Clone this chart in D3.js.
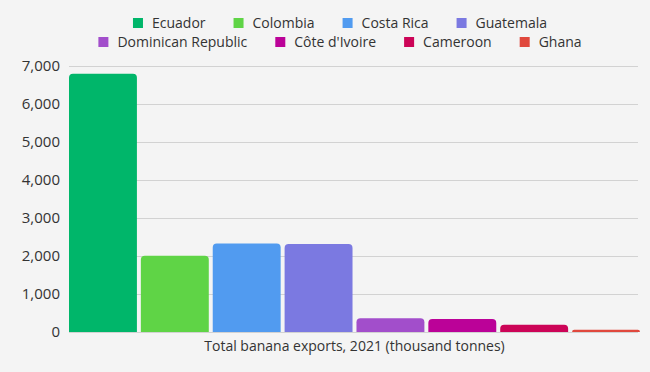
<!DOCTYPE html>
<html>
<head>
<meta charset="utf-8">
<script src="https://cdn.jsdelivr.net/npm/d3@7"></script>
<style>
  html, body { margin: 0; padding: 0; background: #f4f4f4; }
  svg { display: block; font-family: "Open Sans", sans-serif; }
</style>
</head>
<body>
<svg id="chart" width="650" height="372"></svg>
<script>
// Banana exports 2021, thousand tonnes
var countries = ['Ecuador', 'Colombia', 'Costa Rica', 'Guatemala',
  'Dominican Republic', "Côte d'Ivoire", 'Cameroon', 'Ghana'];
var exportsK = [6795, 2005, 2330, 2315, 360, 342, 190, 58];
var colors = ['#00b66a', '#5fd446', '#519bf0', '#7b79e1',
  '#a24ecb', '#bb0298', '#cc0457', '#e0483d'];
var yTicks = [0, 1000, 2000, 3000, 4000, 5000, 6000, 7000];
var legendRows = [[0, 1, 2, 3], [4, 5, 6, 7]];
var xTitle = 'Total banana exports, 2021 (thousand tonnes)';

var W = 650, H = 372;
var m = { left: 69, right: 10, top: 66, bottom: 40 };

var svg = d3.select('#chart');

var x = d3.scaleBand()
  .domain(countries)
  .range([m.left, W - m.right])
  .paddingInner(0.055)
  .paddingOuter(0);

var y = d3.scaleLinear()
  .domain([0, 7000])
  .range([H - m.bottom, m.top]);

// grid + y labels
var yAxis = svg.append('g')
  .attr('transform', 'translate(' + m.left + ',0)')
  .call(d3.axisLeft(y).tickValues(yTicks).tickSize(-(W - m.right - m.left - 2))
    .tickFormat(d3.format(',')).tickPadding(9));
yAxis.select('.domain').remove();
yAxis.selectAll('.tick line').attr('stroke', '#d2d2d2').attr('stroke-width', 1);
yAxis.selectAll('.tick text')
  .attr('fill', '#333')
  .style('font-size', '15px')
  .style('font-family', '"Open Sans", sans-serif');

// bars with rounded tops
function barPath(x0, y0, w, h, r) {
  r = Math.min(r, h, w / 2);
  return 'M' + x0 + ',' + (y0 + h) +
    'V' + (y0 + r) +
    'Q' + x0 + ',' + y0 + ' ' + (x0 + r) + ',' + y0 +
    'H' + (x0 + w - r) +
    'Q' + (x0 + w) + ',' + y0 + ' ' + (x0 + w) + ',' + (y0 + r) +
    'V' + (y0 + h) + 'Z';
}

svg.append('g').selectAll('path')
  .data(countries)
  .join('path')
  .attr('fill', function (d, i) { return colors[i]; })
  .attr('d', function (d, i) {
    var top = y(exportsK[i]);
    return barPath(x(d), top, x.bandwidth(), y(0) - top, 4);
  });

// x title
svg.append('text')
  .attr('x', (m.left + W - m.right) / 2)
  .attr('y', 351)
  .attr('text-anchor', 'middle')
  .attr('fill', '#333')
  .style('font-size', '14px')
  .text(xTitle);

// legend, two centred rows
var legendCx = 340;
var sw = 10, swGap = 9, itemGap = 28;
legendRows.forEach(function (row, r) {
  var g = svg.append('g');
  var cy = 23 + r * 19;
  var cursor = 0;
  row.forEach(function (i) {
    var item = g.append('g').attr('transform', 'translate(' + cursor + ',0)');
    item.append('rect')
      .attr('x', 0).attr('y', cy - sw / 2)
      .attr('width', sw).attr('height', sw)
      .attr('fill', colors[i]);
    var t = item.append('text')
      .attr('x', sw + swGap).attr('y', cy)
      .attr('dy', '0.35em')
      .attr('fill', '#333')
      .style('font-size', '14px')
      .text(countries[i]);
    cursor += sw + swGap + t.node().getComputedTextLength() + itemGap;
  });
  var total = cursor - itemGap;
  g.attr('transform', 'translate(' + (legendCx - total / 2) + ',0)');
});
</script>
</body>
</html>
